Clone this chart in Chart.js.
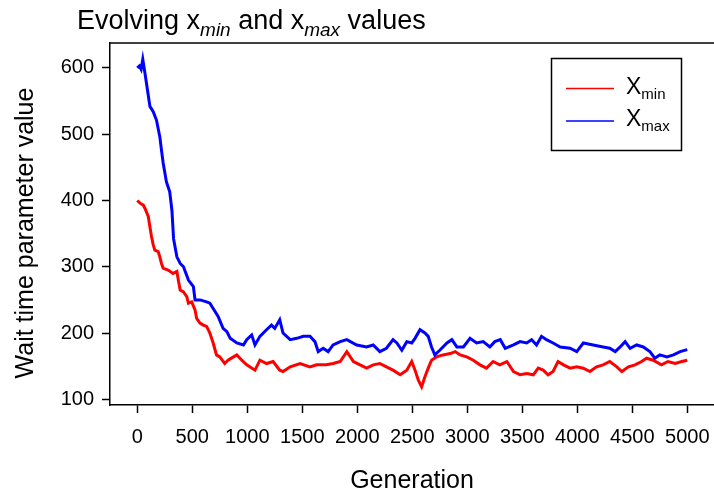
<!DOCTYPE html>
<html>
<head>
<meta charset="utf-8">
<script src="https://cdn.jsdelivr.net/npm/chart.js@4.4.1/dist/chart.umd.min.js"></script>
<style>
  html, body { margin: 0; padding: 0; background: #fff; }
  canvas { display: block; }
</style>
</head>
<body>
<canvas id="evolveChart" width="714" height="496"></canvas>
<script>
// values
const xmaxGen = [0, 20, 35, 50, 70, 115, 145, 175, 205, 220, 235, 265, 295, 315, 330, 360, 390, 420, 465, 510, 525, 570, 630, 660, 690, 735, 780, 815, 845, 905, 965, 995, 1040, 1070, 1115, 1175, 1220, 1250, 1295, 1325, 1390, 1450, 1510, 1570, 1615, 1645, 1690, 1735, 1780, 1845, 1905, 1995, 2085, 2145, 2205, 2265, 2325, 2360, 2405, 2450, 2495, 2525, 2570, 2615, 2645, 2675, 2705, 2750, 2815, 2860, 2905, 2965, 3025, 3085, 3145, 3205, 3250, 3300, 3345, 3420, 3480, 3540, 3585, 3630, 3675, 3720, 3780, 3845, 3935, 3995, 4055, 4145, 4235, 4295, 4345, 4390, 4435, 4480, 4540, 4600, 4660, 4705, 4750, 4815, 4875, 4935, 5000];
const xmaxVals = [600, 603, 598, 613, 592, 542, 534, 521, 496, 476, 457, 428, 413, 385, 342, 315, 305, 300, 280, 270, 250, 250, 247, 245, 237, 225, 207, 202, 192, 185, 182, 190, 197, 182, 195, 205, 212, 207, 220, 200, 190, 192, 195, 195, 187, 172, 177, 172, 182, 187, 190, 182, 179, 182, 172, 177, 190, 185, 174, 187, 185, 192, 205, 200, 195, 179, 167, 174, 185, 190, 179, 179, 192, 185, 187, 179, 187, 190, 177, 182, 187, 185, 190, 182, 195, 190, 185, 179, 177, 172, 185, 182, 179, 177, 172, 179, 187, 177, 182, 179, 172, 162, 167, 164, 167, 172, 175];

const xminGen = [0, 25, 55, 70, 100, 115, 130, 145, 160, 190, 205, 220, 235, 280, 325, 360, 375, 390, 420, 450, 465, 495, 525, 540, 570, 600, 630, 660, 690, 720, 750, 795, 825, 875, 905, 950, 995, 1070, 1115, 1175, 1235, 1295, 1325, 1390, 1480, 1570, 1630, 1720, 1780, 1845, 1905, 1965, 2025, 2085, 2145, 2205, 2265, 2325, 2390, 2450, 2495, 2525, 2555, 2585, 2615, 2645, 2675, 2720, 2780, 2845, 2890, 2935, 2995, 3055, 3115, 3175, 3235, 3295, 3360, 3420, 3480, 3540, 3600, 3645, 3690, 3735, 3780, 3825, 3875, 3935, 3995, 4055, 4115, 4175, 4235, 4295, 4360, 4405, 4465, 4525, 4585, 4630, 4690, 4765, 4825, 4890, 4950, 5000];
const xminVals = [400, 396, 393, 388, 376, 360, 345, 333, 325, 323, 315, 305, 298, 295, 290, 293, 278, 265, 262, 255, 245, 247, 235, 222, 215, 212, 210, 200, 185, 167, 164, 154, 159, 164, 167, 159, 152, 144, 159, 154, 157, 144, 142, 149, 154, 149, 152, 152, 154, 157, 172, 157, 152, 147, 152, 154, 149, 144, 137, 144, 157, 144, 129, 119, 134, 147, 159, 164, 167, 169, 172, 167, 164, 159, 152, 147, 157, 152, 157, 142, 137, 139, 137, 147, 144, 137, 142, 157, 152, 147, 149, 147, 142, 149, 152, 157, 149, 142, 149, 152, 157, 162, 159, 152, 157, 154, 157, 159];

const xTicks = [0, 500, 1000, 1500, 2000, 2500, 3000, 3500, 4000, 4500, 5000];
const yTicks = [100, 200, 300, 400, 500, 600];

const FONT = "'Liberation Sans', Arial, sans-serif";
const RED = "#ff0000";
const BLUE = "#0000ff";

const toPoints = (gens, vals) => gens.map((g, i) => ({ x: g, y: vals[i] }));

// title, y axis title, top edge of the box and the legend (sub-scripted labels)
const decorations = {
  id: "decorations",
  afterDraw(chart) {
    const ctx = chart.ctx;
    const a = chart.chartArea;
    ctx.save();

    // top edge of the plot box
    ctx.strokeStyle = "#000";
    ctx.lineWidth = 1.5;
    ctx.beginPath();
    ctx.moveTo(a.left, a.top);
    ctx.lineTo(a.right, a.top);
    ctx.stroke();

    // y axis title
    ctx.save();
    ctx.translate(33, 233);
    ctx.rotate(-Math.PI / 2);
    ctx.font = "25px " + FONT;
    ctx.fillStyle = "#000";
    ctx.textAlign = "center";
    ctx.textBaseline = "alphabetic";
    ctx.fillText("Wait time parameter value", 0, 0);
    ctx.restore();

    // title with italic subscripts
    ctx.fillStyle = "#000";
    ctx.textBaseline = "alphabetic";
    ctx.textAlign = "left";
    const parts = [
      ["Evolving x", false],
      ["min", true],
      [" and x", false],
      ["max", true],
      [" values", false],
    ];
    let tx = 77;
    parts.forEach(([txt, sub]) => {
      ctx.font = sub ? "italic 19px " + FONT : "27px " + FONT;
      ctx.fillText(txt, tx, sub ? 36 : 29);
      tx += ctx.measureText(txt).width;
    });

    // legend
    ctx.lineWidth = 1.5;
    ctx.strokeStyle = "#000";
    ctx.strokeRect(551.5, 58.5, 130, 92);
    const items = [
      ["min", RED, 88.5],
      ["max", BLUE, 121],
    ];
    items.forEach(([sub, col, y]) => {
      ctx.strokeStyle = col;
      ctx.lineWidth = 1.5;
      ctx.beginPath();
      ctx.moveTo(566, y);
      ctx.lineTo(614, y);
      ctx.stroke();
      ctx.fillStyle = "#000";
      ctx.font = "23px " + FONT;
      ctx.fillText("X", 626, y + 5);
      const w = ctx.measureText("X").width;
      ctx.font = "15px " + FONT;
      ctx.fillText(sub, 626 + w, y + 10);
    });

    ctx.restore();
  },
};

new Chart(document.getElementById("evolveChart"), {
  type: "line",
  data: {
    datasets: [
      {
        label: "Xmax",
        data: toPoints(xmaxGen, xmaxVals),
        borderColor: BLUE,
        backgroundColor: BLUE,
        borderWidth: 3,
        pointRadius: 0,
        tension: 0,
        fill: false,
      },
      {
        label: "Xmin",
        data: toPoints(xminGen, xminVals),
        borderColor: RED,
        backgroundColor: RED,
        borderWidth: 3,
        pointRadius: 0,
        tension: 0,
        fill: false,
      },
    ],
  },
  options: {
    responsive: false,
    animation: false,
    devicePixelRatio: 1,
    layout: { padding: { top: 43, right: 0, left: 0, bottom: 0 } },
    plugins: {
      legend: { display: false },
      tooltip: { enabled: false },
    },
    scales: {
      x: {
        type: "linear",
        min: -248,
        max: 5243,
        afterBuildTicks: (s) => { s.ticks = xTicks.map((v) => ({ value: v })); },
        afterFit: (s) => {
          s.height = 91;
          s.paddingLeft = 0;
          s.paddingRight = 0;
        },
        ticks: {
          color: "#000",
          font: { family: FONT, size: 20 },
          padding: 12,
          maxRotation: 0,
          autoSkip: false,
          callback: (v) => String(v),
        },
        grid: {
          drawOnChartArea: false,
          drawTicks: true,
          tickLength: 8,
          tickColor: "#000",
          tickWidth: 1.5,
        },
        border: { display: true, color: "#000", width: 1.5 },
        title: {
          display: true,
          text: "Generation",
          color: "#000",
          font: { family: FONT, size: 25 },
          padding: { top: 12, bottom: 0 },
        },
      },
      y: {
        min: 91.4,
        max: 637.7,
        afterBuildTicks: (s) => { s.ticks = yTicks.map((v) => ({ value: v })); },
        afterFit: (s) => {
          s.width = 110;
          s.paddingTop = 0;
          s.paddingBottom = 0;
        },
        ticks: {
          color: "#000",
          font: { family: FONT, size: 20 },
          padding: 8,
          callback: (v) => String(v),
        },
        grid: {
          drawOnChartArea: false,
          drawTicks: true,
          tickLength: 8,
          tickColor: "#000",
          tickWidth: 1.5,
        },
        border: { display: true, color: "#000", width: 1.5 },
      },
    },
  },
  plugins: [decorations],
});
</script>
</body>
</html>
